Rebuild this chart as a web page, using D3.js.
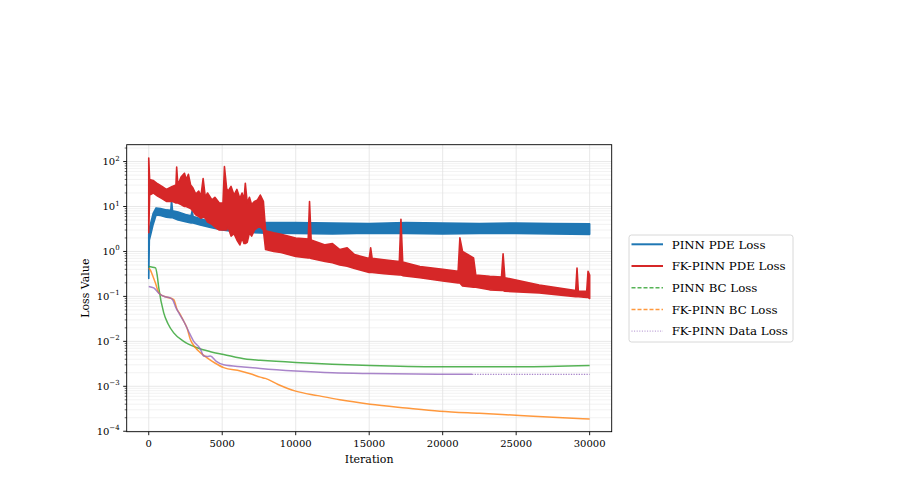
<!DOCTYPE html>
<html>
<head>
<meta charset="utf-8">
<script src="https://cdn.jsdelivr.net/npm/d3@7"></script>
<style>
  body { margin: 0; background: #fff; }
  text { font-family: "DejaVu Serif", serif; fill: #000; }
</style>
</head>
<body>
<svg id="chart" width="905" height="489"></svg>
<script>
// tick values
var xTicks = [0, 5000, 10000, 15000, 20000, 25000, 30000];
var yDecades = [-4, -3, -2, -1, 0, 1, 2];

// PINN PDE loss: noisy band, read as low / high envelope
var pinnPdeIter = [0, 40, 150, 300, 500, 800, 1200, 1500, 1550, 1620, 2000, 2500, 2880, 2950, 3020, 3500, 4200, 5000, 6000, 8000, 10000, 12500, 15000, 17500, 20000, 22500, 25000, 27500, 30000];
var pinnPdeLow  = [0.25, 1.8, 2.5, 4.0, 6.5, 6.3, 5.8, 5.6, 5.6, 5.6, 5.0, 4.6, 4.3, 4.3, 4.3, 3.9, 3.4, 3.0, 2.7, 2.55, 2.5, 2.45, 2.55, 2.5, 2.45, 2.5, 2.5, 2.45, 2.4];
var pinnPdeHigh = [2.5, 3.2, 4.5, 7.0, 9.3, 9.0, 8.4, 8.2, 14, 8.0, 7.5, 6.6, 6.2, 8.0, 6.0, 5.4, 4.6, 4.3, 4.3, 4.4, 4.4, 4.3, 4.2, 4.4, 4.3, 4.2, 4.3, 4.2, 4.1];

// FK-PINN PDE loss: noisy band with spikes
var fkPdeIter = [0, 60, 300, 600, 900, 1200, 1600, 1850, 1900, 1980, 2200, 2430, 2550, 2700, 2850, 3000, 3200, 3400, 3550, 3700, 3850, 4000, 4300, 4500, 4800, 5050, 5150, 5300, 5400, 5600, 5800, 6000, 6200, 6350, 6480, 6570, 6700, 6850, 7000, 7200, 7400, 7590, 7800, 7950, 8500, 9000, 10000, 10850, 10940, 11050, 12000, 12500, 13000, 13500, 14000, 15000, 15100, 15200, 16000, 17050, 17160, 17280, 18450, 20000, 21050, 21170, 21350, 22100, 22250, 23200, 24000, 24110, 24230, 26570, 29050, 29140, 29230, 29800, 29890, 30000];
var fkPdeLow  = [2.6, 18, 20, 17, 15, 13, 13, 12, 12, 12, 11, 10, 10, 9.5, 9, 8, 6.5, 6, 5.5, 5.8, 5.5, 4.5, 4, 3.5, 3, 3, 3, 3, 3.5, 2.2, 2.5, 1.8, 1.4, 2.0, 1.5, 1.5, 1.6, 2.6, 2.2, 3.0, 3.4, 3.5, 3, 1.1, 1.0, 0.95, 0.77, 0.72, 0.72, 0.7, 0.6, 0.56, 0.5, 0.47, 0.42, 0.34, 0.34, 0.34, 0.32, 0.30, 0.30, 0.29, 0.26, 0.22, 0.20, 0.20, 0.17, 0.16, 0.16, 0.14, 0.135, 0.135, 0.13, 0.12, 0.098, 0.098, 0.098, 0.095, 0.095, 0.09];
var fkPdeHigh = [120, 40, 38, 32, 28, 24, 28, 30, 75, 30, 45, 55, 40, 52, 30, 26, 19, 22, 17, 42, 16, 20, 14, 16, 12, 12, 77, 25, 22, 28, 18, 24, 15, 20, 14, 33, 12, 16, 11, 13, 14, 18, 13, 2.9, 2.6, 2.4, 2.0, 1.9, 12.9, 1.8, 1.4, 1.5, 1.1, 1.2, 0.85, 0.7, 1.2, 0.7, 0.65, 0.6, 5.2, 0.58, 0.46, 0.4, 0.36, 2.0, 1.0, 0.72, 0.30, 0.28, 0.27, 0.89, 0.26, 0.18, 0.135, 0.43, 0.13, 0.13, 0.36, 0.3];

// PINN BC loss
var pinnBcIter = [0, 200, 460, 570, 680, 1020, 1300, 1700, 2380, 3290, 4200, 5100, 6680, 7590, 10000, 15060, 19800, 25240, 30000];
var pinnBc     = [0.46, 0.45, 0.43, 0.30, 0.156, 0.043, 0.025, 0.0154, 0.0100, 0.0072, 0.0059, 0.0051, 0.0040, 0.0038, 0.0034, 0.0029, 0.00272, 0.00272, 0.0029];

// FK-PINN BC loss
var fkBcIter = [0, 120, 250, 450, 680, 800, 1200, 1700, 1930, 2100, 2380, 2600, 2830, 3100, 3510, 3970, 4500, 5100, 6230, 6910, 7590, 7930, 8800, 10000, 11500, 13000, 15060, 17500, 19800, 22500, 25240, 27500, 30000];
var fkBc     = [0.43, 0.38, 0.30, 0.2, 0.12, 0.11, 0.097, 0.085, 0.051, 0.042, 0.028, 0.02, 0.011, 0.0078, 0.0056, 0.0043, 0.0033, 0.0026, 0.0022, 0.0019, 0.0016, 0.0015, 0.0011, 0.00078, 0.00062, 0.0005, 0.00040, 0.00033, 0.00028, 0.00025, 0.000225, 0.000205, 0.000188];

// FK-PINN data loss
var fkDataIter = [0, 340, 800, 1100, 1470, 1650, 1810, 2100, 2380, 2700, 3060, 3510, 3740, 4000, 4190, 4600, 5100, 6450, 7590, 10000, 12500, 15060, 20000, 22000, 25000, 30000];
var fkData     = [0.167, 0.154, 0.109, 0.098, 0.092, 0.082, 0.06, 0.04, 0.028, 0.017, 0.010, 0.0068, 0.0047, 0.0046, 0.0047, 0.0036, 0.0030, 0.0027, 0.0025, 0.0022, 0.0020, 0.00192, 0.00186, 0.00185, 0.00184, 0.00184];

var legendNames = ["PINN PDE Loss", "FK-PINN PDE Loss", "PINN BC Loss", "FK-PINN BC Loss", "FK-PINN Data Loss"];

function drawChart() {
var svg = d3.select("#chart");
var pL = 126.7, pR = 611.7, pT = 144.7, pB = 431.7;

var x = d3.scaleLinear().domain([-1500, 31500]).range([pL, pR]);
var y = d3.scaleLog().domain([Math.pow(10, -4.01), Math.pow(10, 2.375)]).range([pB, pT]);

svg.append("clipPath").attr("id", "plotclip")
  .append("rect").attr("x", pL).attr("y", pT).attr("width", pR - pL).attr("height", pB - pT);

// grid
var grid = svg.append("g");
var minor = [];
yDecades.forEach(function(d) {
  for (var k = 2; k <= 9; k++) minor.push(k * Math.pow(10, d));
});
minor = minor.filter(function(v) { return y(v) >= pT; });
grid.selectAll("line.minor").data(minor)
  .enter().append("line")
  .attr("x1", pL).attr("x2", pR)
  .attr("y1", function(d) { return y(d); }).attr("y2", function(d) { return y(d); })
  .style("stroke", "#efefef").style("stroke-width", 0.8);
grid.selectAll("line.ymaj").data(yDecades)
  .enter().append("line")
  .attr("x1", pL).attr("x2", pR)
  .attr("y1", function(d) { return y(Math.pow(10, d)); }).attr("y2", function(d) { return y(Math.pow(10, d)); })
  .style("stroke", "#e2e2e2").style("stroke-width", 0.8);
grid.selectAll("line.xmaj").data(xTicks)
  .enter().append("line")
  .attr("x1", function(d) { return x(d); }).attr("x2", function(d) { return x(d); })
  .attr("y1", pT).attr("y2", pB)
  .style("stroke", "#e2e2e2").style("stroke-width", 0.8);

var plot = svg.append("g").attr("clip-path", "url(#plotclip)");

function band(iters, lo, hi) {
  return iters.map(function(it, i) { return { x: it, lo: lo[i], hi: hi[i] }; });
}
var area = d3.area()
  .x(function(d) { return x(d.x); })
  .y0(function(d) { return y(d.lo); })
  .y1(function(d) { return y(d.hi); });

plot.append("path").datum(band(pinnPdeIter, pinnPdeLow, pinnPdeHigh))
  .attr("d", area)
  .style("fill", "#1f77b4").style("stroke", "#1f77b4").style("stroke-width", 1.6)
  .style("stroke-linejoin", "round");

plot.append("path").datum(band(fkPdeIter, fkPdeLow, fkPdeHigh))
  .attr("d", area)
  .style("fill", "#d62728").style("stroke", "#d62728").style("stroke-width", 1.6)
  .style("stroke-linejoin", "round");

function pts(iters, vals) {
  return iters.map(function(it, i) { return { x: it, v: vals[i] }; });
}
var line = d3.line()
  .x(function(d) { return x(d.x); })
  .y(function(d) { return y(d.v); })
  .curve(d3.curveMonotoneX);

plot.append("path").datum(pts(pinnBcIter, pinnBc)).attr("d", line)
  .style("fill", "none").style("stroke", "#2ca02c").style("stroke-opacity", 0.8).style("stroke-width", 1.5);
plot.append("path").datum(pts(fkBcIter, fkBc)).attr("d", line)
  .style("fill", "none").style("stroke", "#ff7f0e").style("stroke-opacity", 0.8).style("stroke-width", 1.5);
// data loss: noisy dotted line looks solid early, dotted once it settles
var dataPts = pts(fkDataIter, fkData);
plot.append("path").datum(dataPts.filter(function(d) { return d.x <= 22000; })).attr("d", line)
  .style("fill", "none").style("stroke", "#9467bd").style("stroke-opacity", 0.8).style("stroke-width", 1.5);
plot.append("path").datum(dataPts.filter(function(d) { return d.x >= 22000; })).attr("d", line)
  .style("fill", "none").style("stroke", "#9467bd").style("stroke-opacity", 0.8).style("stroke-width", 1.3)
  .style("stroke-dasharray", "1.3,1.3");

// frame
svg.append("rect").attr("x", pL).attr("y", pT).attr("width", pR - pL).attr("height", pB - pT)
  .style("fill", "none").style("stroke", "#000").style("stroke-width", 0.9);

// x axis
var xAxis = svg.append("g");
xAxis.selectAll("line").data(xTicks).enter().append("line")
  .attr("x1", function(d) { return x(d); }).attr("x2", function(d) { return x(d); })
  .attr("y1", pB).attr("y2", pB + 3.5)
  .style("stroke", "#000").style("stroke-width", 0.9);
xAxis.selectAll("text").data(xTicks).enter().append("text")
  .attr("x", function(d) { return x(d); }).attr("y", pB + 15.5)
  .attr("text-anchor", "middle").style("font-size", "10px")
  .text(function(d) { return d; });

// y axis
var yAxis = svg.append("g");
yAxis.selectAll("line.maj").data(yDecades).enter().append("line")
  .attr("x1", pL - 3.5).attr("x2", pL)
  .attr("y1", function(d) { return y(Math.pow(10, d)); }).attr("y2", function(d) { return y(Math.pow(10, d)); })
  .style("stroke", "#000").style("stroke-width", 0.9);
yAxis.selectAll("line.min").data(minor).enter().append("line")
  .attr("x1", pL - 2).attr("x2", pL)
  .attr("y1", function(d) { return y(d); }).attr("y2", function(d) { return y(d); })
  .style("stroke", "#000").style("stroke-width", 0.6);
var yl = yAxis.selectAll("text").data(yDecades).enter().append("text")
  .attr("x", pL - 7).attr("y", function(d) { return y(Math.pow(10, d)) + 3.5; })
  .attr("text-anchor", "end").style("font-size", "10px");
yl.append("tspan").text("10");
yl.append("tspan").attr("dy", -4.5).style("font-size", "7px")
  .text(function(d) { return d < 0 ? "\u2212" + (-d) : String(d); });

// axis labels
svg.append("text").attr("x", (pL + pR) / 2).attr("y", 463)
  .attr("text-anchor", "middle").style("font-size", "11px").text("Iteration");
svg.append("text").attr("transform", "translate(89," + ((pT + pB) / 2) + ") rotate(-90)")
  .attr("text-anchor", "middle").style("font-size", "11px").text("Loss Value");

// legend
var lg = svg.append("g");
lg.append("rect").attr("x", 629).attr("y", 235).attr("width", 164).attr("height", 107)
  .attr("rx", 2.5).style("fill", "#fff").style("fill-opacity", 0.8)
  .style("stroke", "#d4d4d4").style("stroke-width", 0.9);
var legendStyle = [
  { c: "#1f77b4", w: 2, dash: null, op: 1 },
  { c: "#d62728", w: 2, dash: null, op: 1 },
  { c: "#2ca02c", w: 1.5, dash: "4,2", op: 0.8 },
  { c: "#ff7f0e", w: 1.5, dash: "4,2", op: 0.8 },
  { c: "#9467bd", w: 1, dash: "1,1.6", op: 0.8 }
];
var row = lg.selectAll("g.row").data(legendNames).enter().append("g")
  .attr("transform", function(d, i) { return "translate(0," + (244.3 + i * 21.7) + ")"; });
row.append("line").attr("x1", 631.5).attr("x2", 663).attr("y1", 0).attr("y2", 0)
  .style("stroke", function(d, i) { return legendStyle[i].c; })
  .style("stroke-width", function(d, i) { return legendStyle[i].w; })
  .style("stroke-opacity", function(d, i) { return legendStyle[i].op; })
  .style("stroke-dasharray", function(d, i) { return legendStyle[i].dash; });
row.append("text").attr("x", 671.7).attr("y", 4.2).style("font-size", "11.8px")
  .text(function(d) { return d; });
}

drawChart();
</script>
</body>
</html>
